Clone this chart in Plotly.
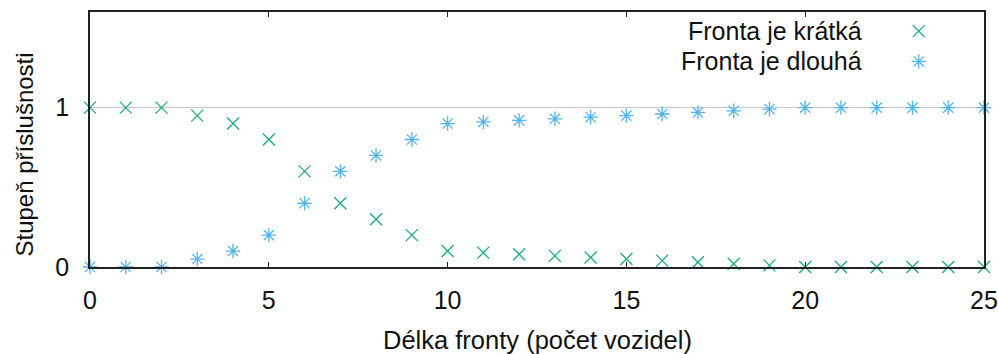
import plotly.graph_objects as go

# Queue length (number of vehicles)
delka = list(range(0, 26))

# Membership degree: "queue is short"
kratka = [1.0, 1.0, 1.0, 0.95, 0.9, 0.8, 0.6, 0.4, 0.3, 0.2,
          0.1, 0.09, 0.08, 0.07, 0.06, 0.05, 0.04, 0.03, 0.02, 0.01,
          0.0, 0.0, 0.0, 0.0, 0.0, 0.0]

# Membership degree: "queue is long"
dlouha = [0.0, 0.0, 0.0, 0.05, 0.1, 0.2, 0.4, 0.6, 0.7, 0.8,
          0.9, 0.91, 0.92, 0.93, 0.94, 0.95, 0.96, 0.97, 0.98, 0.99,
          1.0, 1.0, 1.0, 1.0, 1.0, 1.0]

nazvy = ["Fronta je krátká", "Fronta je dlouhá"]
x_ticks = [0, 5, 10, 15, 20, 25]
y_ticks = [0, 1]

ZELENA = "#1aab7a"
MODRA = "#56b4e9"
FONT = "Liberation Sans, Arial, sans-serif"
FS = 25

fig = go.Figure()

fig.add_trace(go.Scatter(
    x=delka, y=kratka, mode="markers", name=nazvy[0], cliponaxis=False,
    marker=dict(symbol="x-thin-open", size=12, color=ZELENA,
                line=dict(color=ZELENA, width=1.3)),
))
fig.add_trace(go.Scatter(
    x=delka, y=dlouha, mode="markers", name=nazvy[1], cliponaxis=False,
    marker=dict(symbol="asterisk-open", size=12, color=MODRA,
                line=dict(color=MODRA, width=1.3)),
))

# Legend keys, drawn on a hidden unit-square overlay so the symbol sits
# to the right of its label
klic_x = [0.927, 0.927]
klic_y = [0.925, 0.806]
fig.add_trace(go.Scatter(
    x=[klic_x[0]], y=[klic_y[0]], xaxis="x2", yaxis="y2", mode="markers",
    cliponaxis=False, hoverinfo="skip",
    marker=dict(symbol="x-thin-open", size=12, color=ZELENA,
                line=dict(color=ZELENA, width=1.3)),
))
fig.add_trace(go.Scatter(
    x=[klic_x[1]], y=[klic_y[1]], xaxis="x2", yaxis="y2", mode="markers",
    cliponaxis=False, hoverinfo="skip",
    marker=dict(symbol="asterisk-open", size=12, color=MODRA,
                line=dict(color=MODRA, width=1.3)),
))

annotations = []
for nazev, ky in zip(nazvy, klic_y):
    annotations.append(dict(
        text=nazev, xref="x2", yref="y2", x=0.866, y=ky,
        xanchor="right", yanchor="middle", showarrow=False,
        font=dict(family=FONT, size=FS, color="#111"),
    ))

annotations.append(dict(
    text="Délka fronty (počet vozidel)", xref="paper", yref="paper",
    x=0.5, y=-0.285, xanchor="center", yanchor="middle", showarrow=False,
    font=dict(family=FONT, size=FS + 0.5, color="#111"),
))
annotations.append(dict(
    text="Stupeň příslušnosti", xref="paper", yref="paper",
    x=-0.073, y=0.44, xanchor="center", yanchor="middle", showarrow=False,
    textangle=-90, font=dict(family=FONT, size=FS - 1, color="#111"),
))

fig.update_layout(
    width=998, height=354,
    margin=dict(l=90, r=14, t=12, b=87, autoexpand=False),
    paper_bgcolor="white", plot_bgcolor="white",
    showlegend=False,
    font=dict(family=FONT, size=FS, color="#111"),
    xaxis=dict(
        range=[0, 25], tickvals=x_ticks, ticks="inside", ticklen=5,
        tickwidth=1.3, tickcolor="#222", showline=True, linecolor="#222",
        linewidth=1.5, mirror="ticks", showgrid=False, zeroline=False,
        automargin=False,
        ticklabelstandoff=10, tickfont=dict(family=FONT, size=FS, color="#111"),
    ),
    yaxis=dict(
        range=[0, 1.6], tickvals=y_ticks, ticks="", showline=True,
        linecolor="#222", linewidth=1.5, mirror=True, showgrid=True,
        gridcolor="#c8c8c8", gridwidth=1.2, zeroline=False,
        automargin=False,
        ticklabelstandoff=14, tickfont=dict(family=FONT, size=FS, color="#111"),
    ),
    xaxis2=dict(range=[0, 1], overlaying="x", visible=False, fixedrange=True),
    yaxis2=dict(range=[0, 1], overlaying="y", visible=False, fixedrange=True),
    annotations=annotations,
)

fig.write_html("out.html")
